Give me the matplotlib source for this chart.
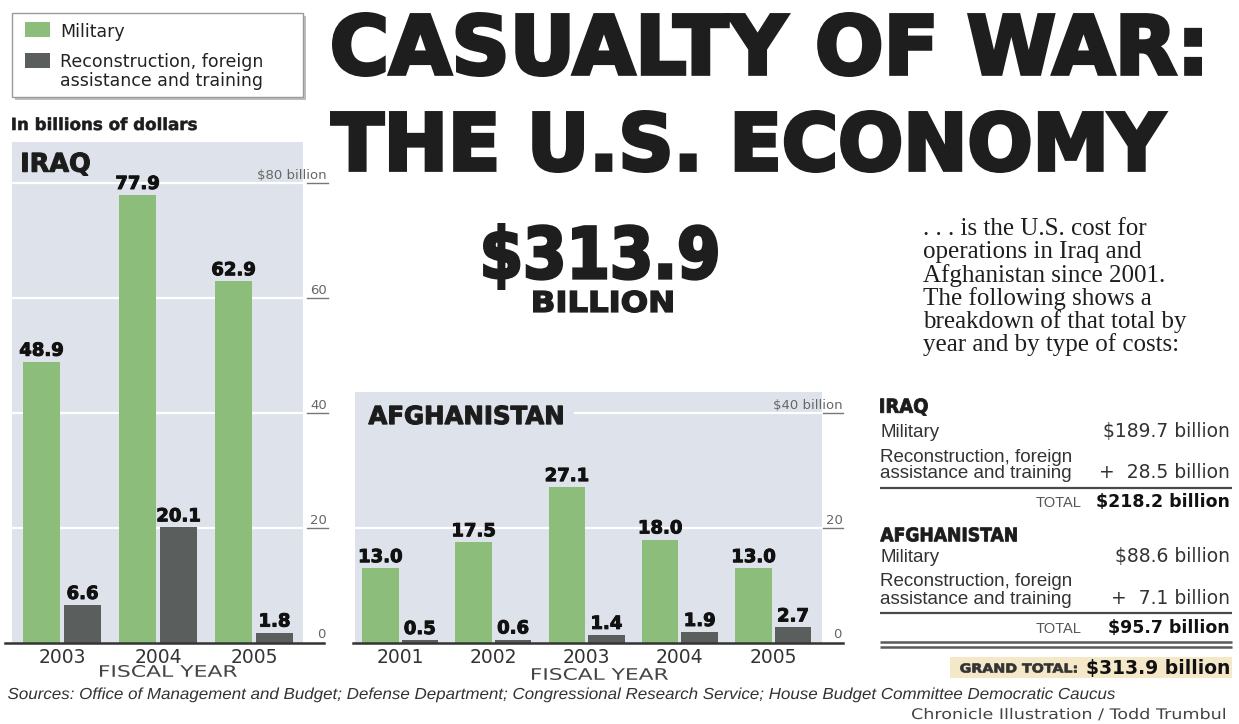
import numpy as np
import matplotlib
matplotlib.use("Agg")
import matplotlib.pyplot as plt
import matplotlib.patheffects as pe
from matplotlib.transforms import Affine2D
from matplotlib.patches import Rectangle
from matplotlib.lines import Line2D

# ---------------- data ----------------
iraq_years = ["2003", "2004", "2005"]
iraq_military = [48.9, 77.9, 62.9]
iraq_recon = [6.6, 20.1, 1.8]

afg_years = ["2001", "2002", "2003", "2004", "2005"]
afg_military = [13.0, 17.5, 27.1, 18.0, 13.0]
afg_recon = [0.5, 0.6, 1.4, 1.9, 2.7]

iraq_ticks = [0, 20, 40, 60, 80]
iraq_tick_labels = ["0", "20", "40", "60", "$80 billion"]
afg_ticks = [0, 20, 40]
afg_tick_labels = ["0", "20", "$40 billion"]

series_labels = ["Military", "Reconstruction, foreign", "assistance and training"]

summary_countries = ["IRAQ", "AFGHANISTAN"]
summary_military = ["$189.7 billion", "$88.6 billion"]
summary_recon = ["+  28.5 billion", "+  7.1 billion"]
summary_total = ["$218.2 billion", "$95.7 billion"]
grand_total = "$313.9 billion"

headline = ["CASUALTY OF WAR:", "THE U.S. ECONOMY"]
big_number = "$313.9"
big_unit = "BILLION"
intro_lines = [
    ". . . is the U.S. cost for",
    "operations in Iraq and",
    "Afghanistan since 2001.",
    "The following shows a",
    "breakdown of that total by",
    "year and by type of costs:",
]
sources = ("Sources: Office of Management and Budget; Defense Department; Congressional "
           "Research Service; House Budget Committee Democratic Caucus")
credit = "Chronicle Illustration / Todd Trumbul"

# ---------------- style ----------------
GREEN = "#8dbd7a"
DARK = "#5a5f5e"
PANEL = "#dee3eb"
INK = "#1c1c1c"

W, H = 1239, 724
fig = plt.figure(figsize=(W / 100, H / 100), dpi=100)
fig.patch.set_facecolor("white")


def fx(x):
    return x / W


def fy(y):
    return 1 - y / H


class FitBox(pe.AbstractPathEffect):
    """Render the text path scaled into a target pixel box (image coords)."""

    def __init__(self, x0, x1, top=None, bottom=None, stroke=0.0):
        super().__init__()
        self.x0, self.x1, self.top, self.bottom, self.stroke = x0, x1, top, bottom, stroke

    def draw_path(self, renderer, gc, tpath, affine, rgbFace=None):
        ext = tpath.get_extents(affine)
        hw = renderer.points_to_pixels(self.stroke) / 2.0
        x0, x1 = self.x0 + hw, self.x1 - hw
        t = Affine2D().translate(-ext.x0, 0).scale((x1 - x0) / ext.width, 1).translate(x0, 0)
        if self.top is not None:
            yb = H - self.bottom + hw
            yt = H - self.top - hw
            t.translate(0, -ext.y0).scale(1, (yt - yb) / ext.height).translate(0, yb)
        tr = affine + t
        gc0 = renderer.new_gc()
        gc0.copy_properties(gc)
        if self.stroke > 0 and rgbFace is not None:
            gc0.set_linewidth(self.stroke)
            gc0.set_foreground(rgbFace)
            gc0.set_joinstyle("miter")
        renderer.draw_path(gc0, tpath, tr, rgbFace)
        gc0.restore()


def fit_text(s, box, size=None, color=INK, stroke=0.0, family="DejaVu Sans", weight="bold",
             style="normal", y=None):
    x0, x1, top, bottom = box
    if y is None:
        # anchor the (unscaled) text box inside the target box
        size = (bottom - top) / 1.2 * 0.72
        t = fig.text(fx(x0), fy(bottom), s, fontsize=size, family=family, weight=weight,
                     style=style, color=color, ha="left", va="bottom")
    else:
        t = fig.text(fx(x0), fy(y), s, fontsize=size, family=family, weight=weight,
                     style=style, color=color, ha="left", va="baseline")
    t.set_path_effects([FitBox(x0, x1, top, bottom, stroke)])
    return t


def ptext(x, y, s, **kw):
    kw.setdefault("va", "baseline")
    return fig.text(fx(x), fy(y), s, **kw)


def hline(x0, x1, y, color="#555555", lw=1.5):
    fig.add_artist(Line2D([fx(x0), fx(x1)], [fy(y), fy(y)], color=color, lw=lw,
                          transform=fig.transFigure, solid_capstyle="butt"))


def rect(x0, y0, x1, y1, **kw):
    r = Rectangle((fx(x0), fy(y1)), (x1 - x0) / W, (y1 - y0) / H, transform=fig.transFigure, **kw)
    fig.add_artist(r)
    return r


PX_PER_UNIT = 5.75
BASE_Y = 643
LABEL_FX = [pe.withStroke(linewidth=0.7, foreground="#111111")]


def make_panel(left, right, top, years, mil, rec, ticks, tick_labels, center0, spacing,
               bw_px, off_px, label_right, ul_x0, ul_x1, base_x0, base_x1, top_grid_xmin, zero_right):
    width = right - left
    ax = fig.add_axes([fx(left), fy(BASE_Y), width / W, (BASE_Y - top) / H])
    ax.set_facecolor(PANEL)
    for s in ax.spines.values():
        s.set_visible(False)
    ax.set_ylim(0, (BASE_Y - top) / PX_PER_UNIT)
    ax.set_xlim((left - center0) / spacing, (right - center0) / spacing)
    x = np.arange(len(years))
    off = off_px / spacing
    bw = bw_px / spacing
    b1 = ax.bar(x - off, mil, width=bw, color=GREEN, zorder=3)
    b2 = ax.bar(x + off, rec, width=bw, color=DARK, zorder=3)
    for b in (b1, b2):
        labs = ax.bar_label(b, fmt="%.1f", padding=1.5, fontsize=13, fontweight="bold",
                            color="#111111", family="DejaVu Sans")
        for lab in labs:
            lab.set_path_effects(LABEL_FX)
    # gridlines
    for i, v in enumerate(ticks[1:]):
        xmin = top_grid_xmin if i == len(ticks) - 2 else 0
        ax.axhline(v, xmin=xmin, xmax=1, color="white", lw=1.6, zorder=1)
    # baseline
    ax.axhline(0, xmin=(base_x0 - left) / width, xmax=(base_x1 - left) / width, color="#333333",
               lw=1.8, zorder=5, clip_on=False)
    # y tick labels with underlines
    for v, lab in zip(ticks, tick_labels):
        if v == 0:
            ax.annotate(lab, xy=((zero_right - left) / width, 0), xycoords=("axes fraction", "data"),
                        xytext=(0, 3.6), textcoords="offset points", ha="right", va="baseline",
                        fontsize=9.5, color="#666666", annotation_clip=False)
            continue
        ax.axhline(v, xmin=(ul_x0 - left) / width, xmax=(ul_x1 - left) / width, color="#777777",
                   lw=1.0, clip_on=False)
        ax.annotate(lab, xy=((label_right - left) / width, v), xycoords=("axes fraction", "data"),
                    xytext=(0, 2.6), textcoords="offset points", ha="right", va="baseline",
                    fontsize=9.5, color="#666666", annotation_clip=False)
    ax.set_yticks([])
    ax.set_xticks(x, years)
    ax.tick_params(axis="x", length=0, pad=3.4, labelsize=13.5, labelcolor="#333333")
    return ax


ax_iraq = make_panel(12, 303, 142, iraq_years, iraq_military, iraq_recon, iraq_ticks, iraq_tick_labels,
                     center0=62, spacing=96, bw_px=37, off_px=20.5, label_right=327,
                     ul_x0=307, ul_x1=328, base_x0=5, base_x1=324, top_grid_xmin=0, zero_right=326)
ax_afg = make_panel(355, 822, 392, afg_years, afg_military, afg_recon, afg_ticks, afg_tick_labels,
                    center0=400, spacing=93.3, bw_px=36.5, off_px=19.75, label_right=843,
                    ul_x0=823, ul_x1=843, base_x0=353, base_x1=843, top_grid_xmin=(575 - 355) / 467,
                    zero_right=842)

# panel titles
fit_text("IRAQ", (22, 90, 152, 176), stroke=0.8)
fit_text("AFGHANISTAN", (368, 563, 405, 425), stroke=0.8)
fit_text("FISCAL YEAR", (100, 237, 665, 677), color="#444444", weight="normal")
fit_text("FISCAL YEAR", (532, 668, 668, 680), color="#444444", weight="normal")

# legend
rect(15, 16, 306, 100, facecolor="#bdbdbd", edgecolor="none")
rect(12, 13, 303, 97, facecolor="white", edgecolor="#9a9a9a", lw=1)
rect(25, 22, 50, 37, facecolor=GREEN, edgecolor="none")
rect(25, 53, 50, 68, facecolor=DARK, edgecolor="none")
ptext(60, 37, series_labels[0], fontsize=12.5, color="#222222", family="DejaVu Sans")
ptext(60, 67, series_labels[1], fontsize=12.5, color="#222222", family="DejaVu Sans")
ptext(60, 86, series_labels[2], fontsize=12.5, color="#222222", family="DejaVu Sans")

fit_text("In billions of dollars", (12, 197, None, None), 12, stroke=0.4, y=130)

# headline
fit_text(headline[0], (332, 1202, 12, 77), color="#1e1e1e", stroke=2.6)
fit_text(headline[1], (330, 1167, 110, 173), color="#1e1e1e", stroke=2.6)
fit_text(big_number, (483, 718, 223, 290), color="#1e1e1e", stroke=2.2)
fit_text(big_unit, (533, 673, 290, 313), color="#1e1e1e", stroke=1.1)

# intro paragraph
for i, line in enumerate(intro_lines):
    ptext(923, 235 + i * 23.3, line, fontsize=18, family="Liberation Serif", color="#1e1e1e")

# summary table
rows = [(398, 416, 437, 462, 478, 488, 507), (527, 542, 562, 586, 604, 613, 633)]
hdr_x1 = [928, 1017]
for k, (top, bot, y_mil, y_r1, y_r2, y_line, y_tot) in enumerate(rows):
    fit_text(summary_countries[k], (880, hdr_x1[k], top, bot), stroke=0.6)
    ptext(880, y_mil, series_labels[0], fontsize=13.5, family="Liberation Sans", color="#333333")
    ptext(1230, y_mil, summary_military[k], fontsize=13.5, family="DejaVu Sans", color="#333333", ha="right")
    ptext(880, y_r1, series_labels[1], fontsize=13.5, family="Liberation Sans", color="#333333")
    ptext(880, y_r2, series_labels[2], fontsize=13.5, family="Liberation Sans", color="#333333")
    ptext(1230, y_r2, summary_recon[k], fontsize=13.5, family="DejaVu Sans", color="#333333", ha="right")
    hline(880, 1232, y_line, color="#4a4a4a", lw=1.6)
    ptext(1082, y_tot, "TOTAL", fontsize=10.5, family="Liberation Sans", color="#555555", ha="right")
    ptext(1230, y_tot, summary_total[k], fontsize=12.5, family="DejaVu Sans", weight="bold",
          color="#111111", ha="right")

hline(880, 1232, 642, color="#5a5a5a", lw=1.8)
hline(880, 1232, 647, color="#5a5a5a", lw=1.8)
rect(950, 657, 1232, 678, facecolor="#f4e8c8", edgecolor="none")
fit_text("GRAND TOTAL:", (960, 1077, 663, 673), color="#333333", stroke=0.5)
ptext(1230, 674, grand_total, fontsize=13.5, family="DejaVu Sans", weight="bold", color="#111111", ha="right")

# footer
fit_text(sources, (8, 1115, None, None), 11.5, color="#333333", family="Liberation Sans",
         weight="normal", style="italic", y=699)
fit_text(credit, (912, 1225, None, None), 10.5, color="#444444", weight="normal", y=719)

fig.savefig("out.png", dpi=100, facecolor="white")
